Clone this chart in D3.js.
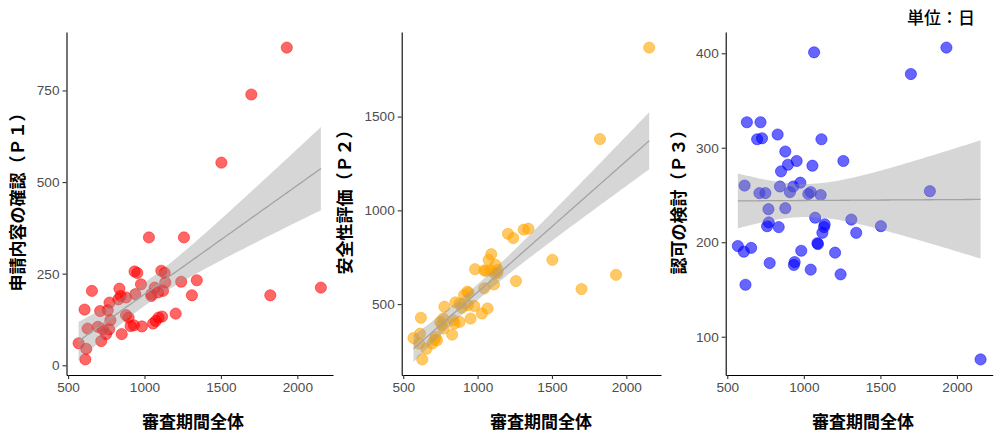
<!DOCTYPE html>
<html>
<head>
<meta charset="utf-8">
<script src="https://cdn.jsdelivr.net/npm/d3@7"></script>
<style>
  body { margin: 0; background: #fff; }
  svg { display: block; }
  .tick text { font-family: "Liberation Sans", Arial, sans-serif; font-size: 13.6px; fill: #4d4d4d; }
  .ttl { font-family: "Noto Sans CJK JP", sans-serif; font-size: 17px; font-weight: 700; fill: #000; }
</style>
</head>
<body>
<div id="chart"></div>
<script>
// Données (jours)
const total = [569, 608, 613, 619, 628, 656, 695, 710, 717, 727, 749, 760, 769, 771, 777,
  829, 836, 844, 851, 879, 879, 896, 909, 931, 935, 940, 953, 977, 983,
  1029, 1045, 1045, 1056, 1067, 1074, 1089, 1092, 1110, 1115, 1121, 1132, 1136,
  1204, 1240, 1258, 1310, 1342, 1503, 1699, 1823, 1931, 2154];
const p1 = [60, 152, 16, 45, 100, 203, 105, 148, 66, 98, 85, 150, 98, 171, 123,
  180, 209, 189, 85, 185, 137, 130, 107, 109, 256, 194, 252, 221, 106,
  349, 189, 194, 114, 212, 121, 199, 130, 258, 133, 203, 252, 226,
  141, 228, 349, 191, 232, 553, 739, 191, 867, 212];
const p2 = [319, 289, 342, 427, 205, 262, 289, 310, 325, 307, 405, 390, 423, 370, 486,
  337, 414, 396, 509, 405, 503, 480, 548, 566, 495, 560, 423, 490, 686,
  450, 584, 680, 677, 477, 736, 680, 766, 605, 664, 709, 665, 682,
  875, 852, 623, 897, 902, 736, 580, 1380, 656, 1868];
const p3 = [196, 190, 260, 155, 327, 194, 309, 252, 327, 310, 252, 217, 235, 221, 178,
  314, 216, 259, 275, 296, 236, 282, 253, 259, 176, 179, 286, 263, 191,
  251, 253, 171, 281, 401, 226, 199, 198, 250, 309, 210, 216, 219,
  189, 166, 286, 224, 210, 217, 378, 254, 406, 76];

const xTicks = [500, 1000, 1500, 2000];
const xTitle = "審査期間全体";
const unitLabel = "単位：日";

const width = 1000;
const height = 441;

const panels = [
  { values: p1, color: "red", title: "申請内容の確認（Ｐ１）", yTicks: [0, 250, 500, 750],
    left: 66.5, right: 333, top: 32, bottom: 375, xTitleX: 193, yTitleX: 18 },
  { values: p2, color: "orange", title: "安全性評価（Ｐ２）", yTicks: [500, 1000, 1500],
    left: 401.7, right: 661, top: 32, bottom: 375, xTitleX: 541, yTitleX: 345 },
  { values: p3, color: "blue", title: "認可の検討（Ｐ３）", yTicks: [100, 200, 300, 400],
    left: 725.7, right: 992.7, top: 32, bottom: 375, xTitleX: 863, yTitleX: 679 }
];

const svg = d3.select("#chart").append("svg")
  .attr("width", width)
  .attr("height", height);

// étendue façon ggplot (5 %)
function expand(ext) {
  const r = ext[1] - ext[0];
  return [ext[0] - 0.05 * r, ext[1] + 0.05 * r];
}

// régression linéaire + IC 95 % (comme geom_smooth(method = "lm"))
function linFit(xs, ys) {
  const n = xs.length;
  const mx = d3.mean(xs), my = d3.mean(ys);
  let sxx = 0, sxy = 0;
  xs.forEach((x, i) => { sxx += (x - mx) ** 2; sxy += (x - mx) * (ys[i] - my); });
  const b = sxy / sxx, a = my - b * mx;
  let sse = 0;
  xs.forEach((x, i) => { sse += (ys[i] - a - b * x) ** 2; });
  const s = Math.sqrt(sse / (n - 2));
  const t = 2.0086; // quantile t à 97,5 %, ddl = 50
  const ext = d3.extent(xs);
  return d3.range(80).map((k) => {
    const x = ext[0] + (ext[1] - ext[0]) * k / 79;
    const y = a + b * x;
    const se = s * Math.sqrt(1 / n + (x - mx) ** 2 / sxx);
    return { x, y, lo: y - t * se, hi: y + t * se };
  });
}

panels.forEach((p) => {
  const x = d3.scaleLinear().domain(expand(d3.extent(total))).range([p.left, p.right]);
  const y = d3.scaleLinear().domain(expand(d3.extent(p.values))).range([p.bottom, p.top]);
  const g = svg.append("g");

  // points
  g.selectAll("circle")
    .data(total)
    .join("circle")
    .attr("cx", (d) => x(d))
    .attr("cy", (d, i) => y(p.values[i]))
    .attr("r", 5.6)
    .attr("fill", p.color)
    .attr("fill-opacity", 0.6)
    .attr("stroke", p.color)
    .attr("stroke-opacity", 0.6)
    .attr("stroke-width", 0.8);

  // bande de confiance et droite
  const fit = linFit(total, p.values);
  g.append("path")
    .datum(fit)
    .attr("fill", "#999999")
    .attr("fill-opacity", 0.4)
    .attr("d", d3.area().x((d) => x(d.x)).y0((d) => y(d.lo)).y1((d) => y(d.hi)));
  g.append("path")
    .datum(fit)
    .attr("fill", "none")
    .attr("stroke", "#a3a3a3")
    .attr("stroke-width", 1.3)
    .attr("d", d3.line().x((d) => x(d.x)).y((d) => y(d.y)));

  // axes
  const fmt = d3.format("d");
  const xAxis = g.append("g")
    .attr("transform", `translate(0,${p.bottom})`)
    .call(d3.axisBottom(x).tickValues(xTicks).tickFormat(fmt).tickSize(4).tickPadding(3).tickSizeOuter(0));
  const yAxis = g.append("g")
    .attr("transform", `translate(${p.left},0)`)
    .call(d3.axisLeft(y).tickValues(p.yTicks).tickFormat(fmt).tickSize(4).tickPadding(3).tickSizeOuter(0));
  [xAxis, yAxis].forEach((ax) => {
    ax.select(".domain").attr("stroke", "#000").attr("stroke-width", 1.1);
    ax.selectAll(".tick line").attr("stroke", "#333").attr("stroke-width", 1.1);
  });

  // titres
  g.append("text")
    .attr("class", "ttl")
    .attr("x", p.xTitleX)
    .attr("y", 428)
    .attr("text-anchor", "middle")
    .text(xTitle);
  g.append("text")
    .attr("class", "ttl")
    .attr("transform", `translate(${p.yTitleX + 6},198) rotate(-90)`)
    .attr("text-anchor", "middle")
    .text(p.title);
});

svg.append("text")
  .attr("class", "ttl")
  .attr("x", 975)
  .attr("y", 24)
  .attr("text-anchor", "end")
  .style("font-weight", 500)
  .text(unitLabel);
</script>
</body>
</html>
